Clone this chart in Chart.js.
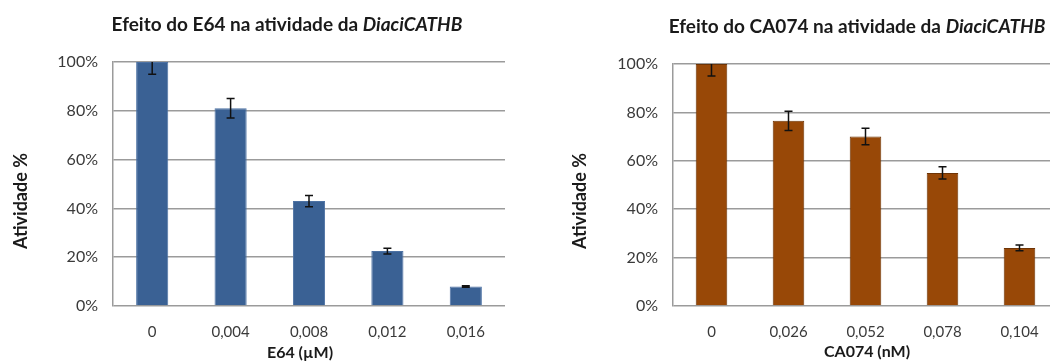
<!DOCTYPE html>
<html>
<head>
<meta charset="utf-8">
<script src="https://cdn.jsdelivr.net/npm/chart.js@4.4.1/dist/chart.umd.min.js"></script>
<style>
  html, body { margin: 0; padding: 0; background: #fff; overflow: hidden; width: 1050px; height: 361px; }
  canvas { position: absolute; top: 0; }
  #c1 { left: 0; }
  #c2 { left: 530px; }
</style>
</head>
<body>
<canvas id="c1" width="520" height="361"></canvas>
<canvas id="c2" width="540" height="361"></canvas>
<script>
// E64 inhibition series
const e64Doses = ['0', '0,004', '0,008', '0,012', '0,016'];
const e64Activity = [100, 81, 43, 22.5, 8];
const e64Error = [5, 4, 2.3, 1.2, 0.3];

// CA074 inhibition series
const ca074Doses = ['0', '0,026', '0,052', '0,078', '0,104'];
const ca074Activity = [100, 76.5, 70, 55, 24];
const ca074Error = [5, 4, 3.4, 2.5, 1.2];

// Y axis ticks (percent)
const yTicks = [0, 20, 40, 60, 80, 100];

const FONT = 'Lato, "Open Sans", sans-serif';
const GRID = 'rgba(130,130,130,0.8)';

// Error bars drawn from the bar elements and the y scale
const errorBarsPlugin = {
  id: 'errorBars',
  afterDatasetsDraw(chart, args, opts) {
    const { ctx, chartArea } = chart;
    const y = chart.scales.y;
    const meta = chart.getDatasetMeta(0);
    const vals = chart.data.datasets[0].data;
    ctx.save();
    ctx.beginPath();
    ctx.rect(chartArea.left, chartArea.top, chartArea.right - chartArea.left, chartArea.bottom - chartArea.top);
    ctx.clip();
    ctx.strokeStyle = '#111';
    ctx.lineWidth = 1.5;
    meta.data.forEach((bar, i) => {
      const e = opts.errors[i];
      const yHi = y.getPixelForValue(vals[i] + e);
      const yLo = y.getPixelForValue(vals[i] - e);
      const cap = 4;
      ctx.beginPath();
      ctx.moveTo(bar.x, yHi); ctx.lineTo(bar.x, yLo);
      ctx.moveTo(bar.x - cap, yHi); ctx.lineTo(bar.x + cap, yHi);
      ctx.moveTo(bar.x - cap, yLo); ctx.lineTo(bar.x + cap, yLo);
      ctx.stroke();
    });
    ctx.restore();
  }
};

// Chart title (with italic gene name) and axis titles
const textPlugin = {
  id: 'chartTexts',
  afterDraw(chart, args, opts) {
    const { ctx } = chart;
    ctx.save();
    ctx.fillStyle = '#1a1a1a';
    ctx.textBaseline = 'middle';
    // title pieces
    const fonts = opts.title.map(p => (p.italic ? 'italic ' : '') + 'bold 19px ' + FONT);
    let total = 0;
    const widths = opts.title.map((p, i) => { ctx.font = fonts[i]; const w = ctx.measureText(p.text).width; total += w; return w; });
    let x = opts.titleX - total / 2;
    ctx.textAlign = 'left';
    opts.title.forEach((p, i) => { ctx.font = fonts[i]; ctx.fillText(p.text, x, opts.titleY); x += widths[i]; });
    // x axis title
    ctx.font = 'bold 16px ' + FONT;
    ctx.textAlign = 'center';
    ctx.fillText(opts.xTitle, opts.xTitleX, opts.xTitleY);
    // y axis title
    ctx.translate(opts.yTitleX, opts.yTitleY);
    ctx.rotate(-Math.PI / 2);
    ctx.font = 'bold 18px ' + FONT;
    ctx.fillText(opts.yTitle, 0, 0);
    ctx.restore();
  }
};

function makeChart(id, labels, values, errors, fill, border, yWidth, padRight, padTop, texts) {
  return new Chart(document.getElementById(id), {
    type: 'bar',
    data: {
      labels: labels,
      datasets: [{
        data: values,
        backgroundColor: fill,
        borderColor: border,
        borderWidth: 1,
        categoryPercentage: 1,
        barPercentage: 0.41
      }]
    },
    options: {
      responsive: false,
      animation: false,
      events: [],
      layout: { padding: { left: 0, right: padRight, top: padTop, bottom: 0 } },
      plugins: {
        legend: { display: false },
        tooltip: { enabled: false },
        errorBars: { errors: errors },
        chartTexts: texts
      },
      scales: {
        x: {
          grid: { display: false },
          border: { display: false },
          ticks: { color: '#3a3a3a', font: { family: FONT, size: 15 }, padding: 9, maxRotation: 0 },
          afterFit: s => { s.height = 55; }
        },
        y: {
          min: 0,
          max: 100,
          afterBuildTicks: s => { s.ticks = yTicks.map(v => ({ value: v })); },
          grid: { color: GRID, lineWidth: 1.5, drawTicks: false },
          border: { display: true, color: GRID, width: 1.5 },
          ticks: { color: '#3a3a3a', font: { family: FONT, size: 16 }, padding: 15, callback: v => v + '%' },
          afterFit: s => { s.width = yWidth; }
        }
      }
    },
    plugins: [errorBarsPlugin, textPlugin]
  });
}

makeChart('c1', e64Doses, e64Activity, e64Error, '#3A6194', '#4D72A4', 113, 15, 62, {
  title: [{ text: 'Efeito do E64 na atividade da ' }, { text: 'DiaciCATHB', italic: true }],
  titleX: 287, titleY: 25,
  xTitle: 'E64 (µM)', xTitleX: 300, xTitleY: 353,
  yTitle: 'Atividade %', yTitleX: 21, yTitleY: 201
});

makeChart('c2', ca074Doses, ca074Activity, ca074Error, '#984807', '#6E3406', 143, 12, 64, {
  title: [{ text: 'Efeito do CA074 na atividade da ' }, { text: 'DiaciCATHB', italic: true }],
  titleX: 327, titleY: 27,
  xTitle: 'CA074 (nM)', xTitleX: 337, xTitleY: 352,
  yTitle: 'Atividade %', yTitleX: 50, yTitleY: 201
});
</script>
</body>
</html>
